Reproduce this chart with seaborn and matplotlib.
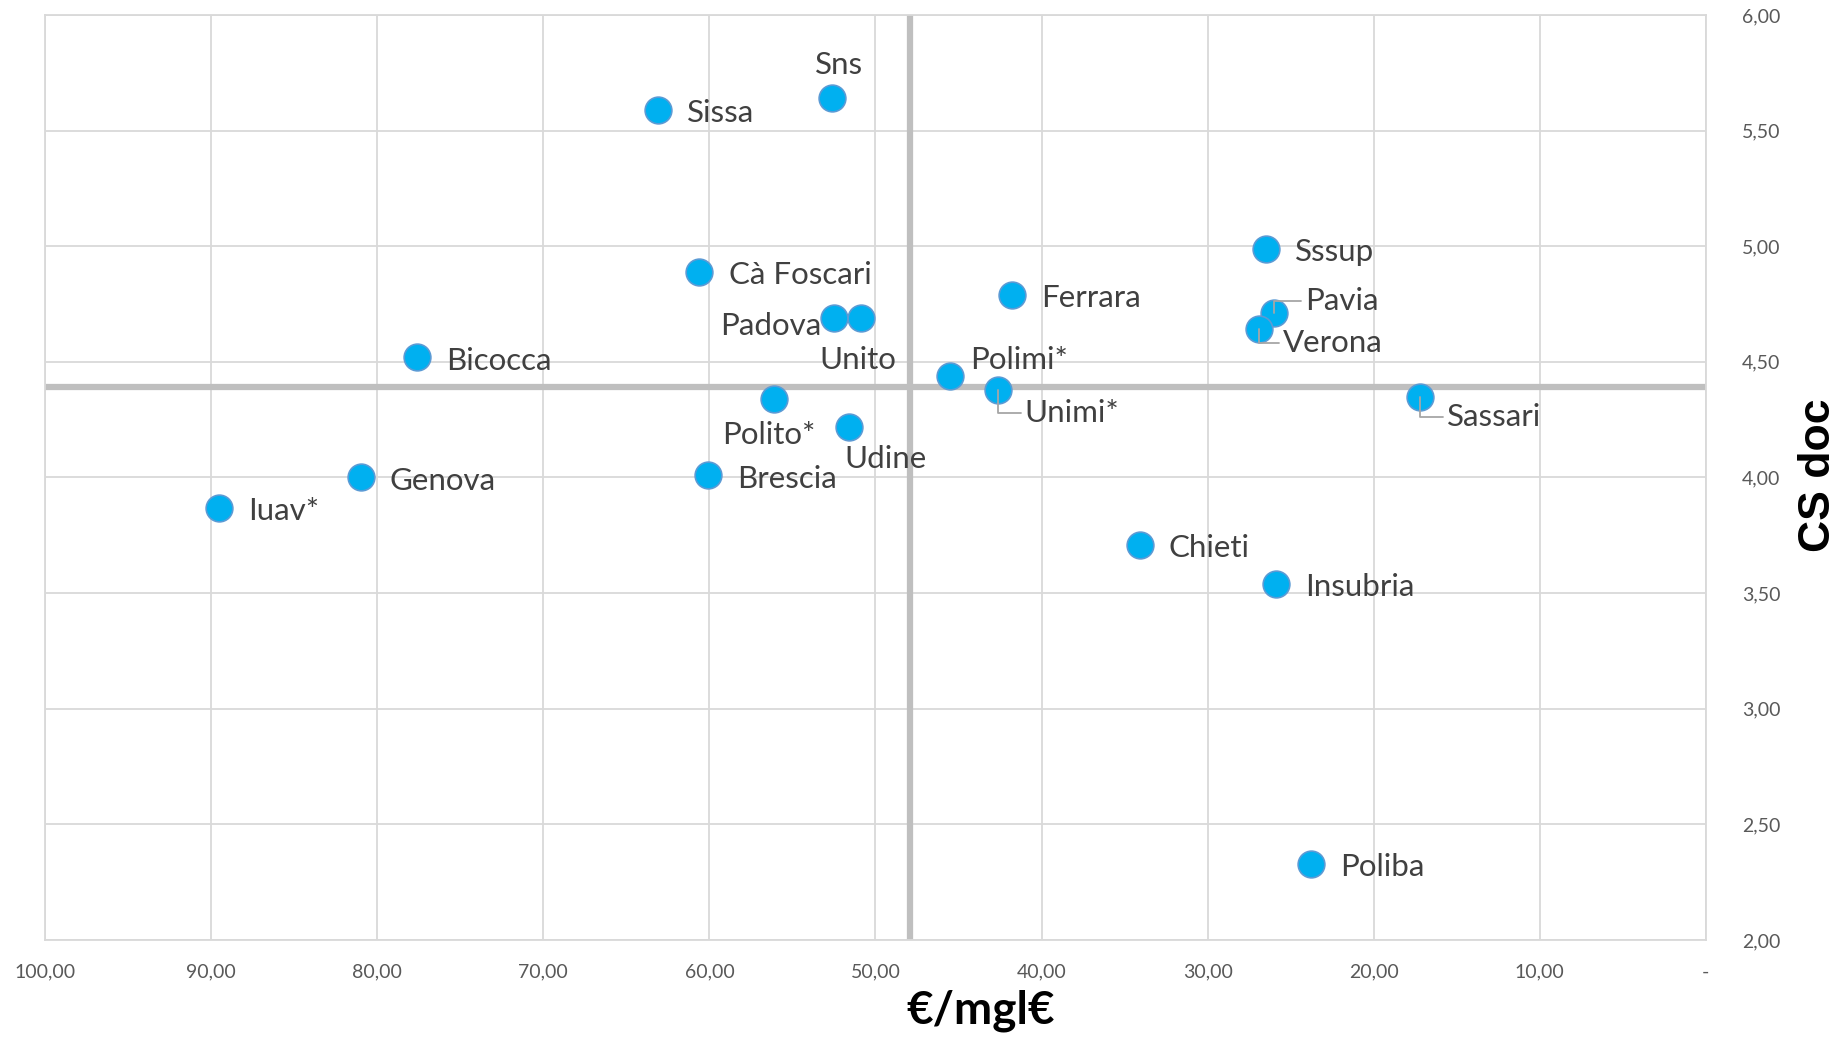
# scatter of universities: cost per thousand vs CS doc score

import matplotlib
matplotlib.use('Agg')
import matplotlib.pyplot as plt
import matplotlib.ticker as mticker
import seaborn as sns
import pandas as pd

universities = ['Sns', 'Sissa', 'Cà Foscari', 'Padova', 'Unito', 'Bicocca', 'Polimi*',
                'Unimi*', 'Ferrara', 'Sssup', 'Pavia', 'Verona', 'Sassari', 'Polito*',
                'Udine', 'Genova', 'Brescia', 'Iuav*', 'Chieti', 'Insubria', 'Poliba']
euro_mgl = [52.6, 63.1, 60.6, 52.5, 50.9, 77.6, 45.5,
            42.6, 41.8, 26.5, 26.0, 26.9, 17.2, 56.1,
            51.6, 81.0, 60.1, 89.5, 34.1, 25.9, 23.8]
cs_doc = [5.64, 5.59, 4.89, 4.69, 4.69, 4.52, 4.44,
          4.38, 4.79, 4.99, 4.71, 4.64, 4.35, 4.34,
          4.22, 4.00, 4.01, 3.87, 3.71, 3.54, 2.33]

# quadrant split lines
x_split = 47.9
y_split = 4.39

# label placement (offset in points, alignment, leader line)
label_pos = {
    'Sns': (5, 24, 'center', False),
    'Padova': (-9, -6, 'right', False),
    'Unito': (-2, -30, 'center', False),
    'Polimi*': (14, 11, 'left', False),
    'Unimi*': (19, -17, 'left', True),
    'Polito*': (-4, -26, 'center', False),
    'Udine': (26, -23, 'center', False),
    'Pavia': (22, 9, 'left', True),
    'Verona': (17, -10, 'left', True),
    'Sassari': (19, -15, 'left', True),
}


def main():
    df = pd.DataFrame({'uni': universities, 'x': euro_mgl, 'y': cs_doc})

    sns.set_style('white')
    plt.rcParams['font.family'] = ['Lato', 'DejaVu Sans']

    fig = plt.figure(figsize=(18.47, 10.40), dpi=100)
    ax = fig.add_axes([0.0244, 0.0962, 0.8992, 0.8894])

    ax.set_xlim(100, 0)
    ax.set_ylim(2, 6)
    ax.xaxis.set_major_locator(mticker.MultipleLocator(10))
    ax.yaxis.set_major_locator(mticker.MultipleLocator(0.5))
    ax.grid(True, color='#D9D9D9', lw=1.3)
    ax.set_axisbelow(True)
    for s in ax.spines.values():
        s.set_color('#D9D9D9')
        s.set_linewidth(1.3)

    ax.axvline(x_split, color='#BFBFBF', lw=4.5, zorder=1.5)
    ax.axhline(y_split, color='#BFBFBF', lw=4.5, zorder=1.5)

    sns.scatterplot(data=df, x='x', y='y', ax=ax, s=370, color='#00B0F0',
                    edgecolor='#5B9BD5', linewidth=1.2, zorder=3, legend=False)

    for name, xv, yv in zip(universities, euro_mgl, cs_doc):
        dx, dy, ha, leader = label_pos.get(name, (21, -2.5, 'left', False))
        kw = {}
        if leader:
            kw['arrowprops'] = dict(arrowstyle='-', color='#A6A6A6', lw=1.3,
                                    connectionstyle='angle,angleA=0,angleB=90,rad=0',
                                    shrinkA=0, shrinkB=0, relpos=(0, 0.5))
        ax.annotate(name, (xv, yv), xytext=(dx, dy), textcoords='offset points',
                    ha=ha, va='center', fontsize=22.5, color='#404040', zorder=4, **kw)

    def fmt_x(v, pos):
        if abs(v) < 1e-9:
            return '-'
        return f'{v:.2f}'.replace('.', ',')

    ax.xaxis.set_major_formatter(mticker.FuncFormatter(fmt_x))
    ax.yaxis.set_major_formatter(mticker.FuncFormatter(lambda v, p: f'{v:.2f}'.replace('.', ',')))
    ax.yaxis.tick_right()
    ax.tick_params(axis='x', length=0, pad=17, labelsize=14, labelcolor='#595959')
    ax.tick_params(axis='y', length=0, pad=26, labelsize=14, labelcolor='#595959')
    ax.set_xlabel('')
    ax.set_ylabel('')

    fig.text(981 / 1847, 1 - 1011 / 1040, '€/mgl€', ha='center', va='center',
             fontsize=33, fontweight='bold', color='black')
    fig.text(1818 / 1847, 1 - 475 / 1040, 'CS doc', ha='center', va='center',
             rotation=90, fontsize=32, fontweight='bold', color='black',
             family=['Liberation Sans', 'DejaVu Sans'])

    fig.savefig('out.png', dpi=100)


if __name__ == "__main__":
    main()
